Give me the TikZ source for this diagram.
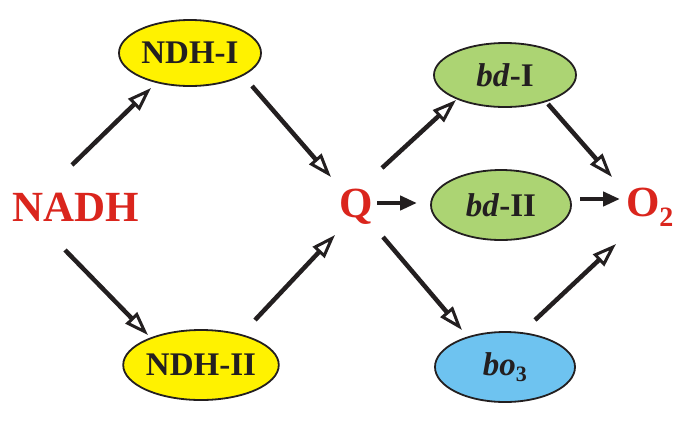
\documentclass[tikz,border=0pt]{standalone}
\usepackage{fontspec}
\setmainfont{Liberation Serif}
\usetikzlibrary{arrows.meta,shapes.geometric}
\definecolor{tred}{RGB}{218,37,29}
\definecolor{tyellow}{RGB}{255,242,0}
\definecolor{tgreen}{RGB}{172,212,115}
\definecolor{tblue}{RGB}{110,195,240}
\definecolor{tblack}{RGB}{35,31,32}
\tikzset{
  bigtxt/.style={inner sep=0pt, text=tred, font=\fontsize{43}{43}\selectfont\bfseries},
  ell/.style={ellipse, draw=tblack, line width=1.8pt, inner sep=0pt, text=tblack,
     font=\fontsize{33}{33}\selectfont\bfseries},
  oarrow/.style={draw=tblack, line width=4.5pt,
     -{Triangle[open, length=24pt, width=16pt, line width=3pt]}},
  farrow/.style={draw=tblack, line width=4.5pt,
     -{Triangle[length=17pt, width=14pt]}}
}
\begin{document}
\begin{tikzpicture}[x=1pt,y=-1pt]
\useasboundingbox (0,0) rectangle (685,421);
\node[bigtxt] (nadh) at (76,207) {NADH};
\node[bigtxt] (q) at (356,207) {Q};
\node[bigtxt] (o2) at (650,207) {O\textsubscript{\fontsize{28}{28}\selectfont 2}};
\node[ell, fill=tyellow, minimum width=142pt, minimum height=66pt] (ndh1) at (190,53) {NDH-I};
\node[ell, fill=tyellow, minimum width=142pt, minimum height=70pt] (ndh2) at (201,365) {NDH-II};
\node[ell, fill=tgreen, minimum width=142pt, minimum height=64pt] (bd1) at (505,75) {\textit{bd}-I};
\node[ell, fill=tgreen, minimum width=140pt, minimum height=70pt] (bd2) at (501,205) {\textit{bd}-II};
\node[ell, fill=tblue, minimum width=140pt, minimum height=70pt] (bo3) at (505,367) {\textit{bo}\textsubscript{\fontsize{22}{22}\selectfont 3}};
\draw[oarrow] ([shift={(-4,-42)}]nadh.center) -- ([shift={(-39,35)}]ndh1.center);
\draw[oarrow] ([shift={(62,33)}]ndh1.center) -- ([shift={(-25,-30)}]q.center);
\draw[oarrow] ([shift={(-11,43)}]nadh.center) -- ([shift={(-53,-30)}]ndh2.center);
\draw[oarrow] ([shift={(54,-45)}]ndh2.center) -- ([shift={(-21,28)}]q.center);
\draw[oarrow] ([shift={(26,-39)}]q.center) -- ([shift={(-49,25)}]bd1.center);
\draw[oarrow] ([shift={(43,29)}]bd1.center) -- ([shift={(-38,-30)}]o2.center);
\draw[oarrow] ([shift={(27,30)}]q.center) -- ([shift={(-43,-37)}]bo3.center);
\draw[oarrow] ([shift={(30,-47)}]bo3.center) -- ([shift={(-34,37)}]o2.center);
\draw[farrow] ([shift={(21,-4)}]q.center) -- ([shift={(-84,-2)}]bd2.center);
\draw[farrow] ([shift={(79,-6)}]bd2.center) -- ([shift={(-30,-8)}]o2.center);
\end{tikzpicture}
\end{document}
